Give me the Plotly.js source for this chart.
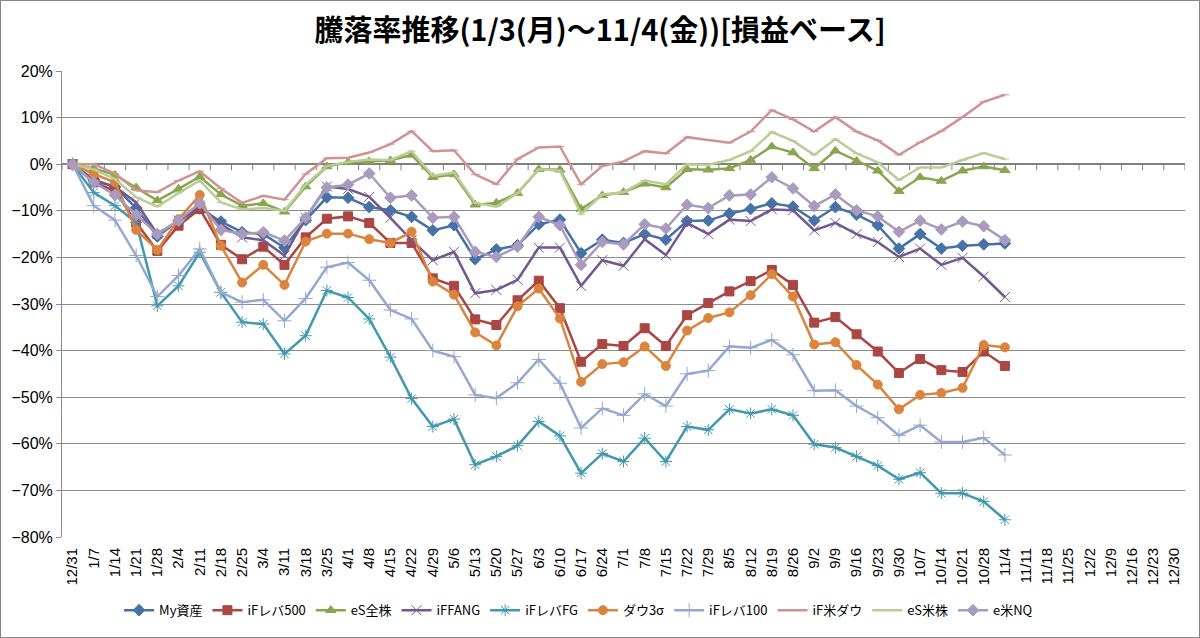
<!DOCTYPE html>
<html>
<head>
<meta charset="utf-8">
<script src="https://cdn.plot.ly/plotly-3.0.1.min.js"></script>
<style>
  body { margin: 0; background: #fff; }
  #chart { width: 1200px; height: 638px; box-sizing: border-box; border: 1px solid #868686; }
</style>
</head>
<body>
<div id="chart"></div>
<script>
// weekly category axis, 12/31 .. 12/30
var dates = ["12/31","1/7","1/14","1/21","1/28","2/4","2/11","2/18","2/25","3/4","3/11","3/18","3/25",
  "4/1","4/8","4/15","4/22","4/29","5/6","5/13","5/20","5/27","6/3","6/10","6/17","6/24",
  "7/1","7/8","7/15","7/22","7/29","8/5","8/12","8/19","8/26","9/2","9/9","9/16","9/23","9/30",
  "10/7","10/14","10/21","10/28","11/4","11/11","11/18","11/25","12/2","12/9","12/16","12/23","12/30"];
var dataDates = dates.slice(0, 45); // data through 11/4

// percent change per week
var myAsset = [0,-3.3,-4.9,-9.4,-15.5,-12.1,-9.5,-12.3,-14.6,-15.0,-17.9,-12.0,-7.1,-7.2,-9.2,-9.9,-11.3,-14.2,-13.1,-20.4,-18.3,-17.4,-12.9,-11.9,-19.1,-16.2,-16.9,-15.0,-16.2,-12.2,-12.1,-10.6,-9.6,-8.4,-9.1,-12.1,-9.2,-10.8,-13.1,-18.1,-15.0,-18.1,-17.5,-17.2,-17.0];
var ifLev500 = [0,-3.9,-5.7,-12.5,-18.6,-13.2,-9.6,-17.3,-20.4,-17.7,-21.6,-15.7,-11.7,-11.2,-12.6,-16.9,-16.9,-24.5,-26.1,-33.3,-34.5,-29.2,-25.0,-30.9,-42.4,-38.6,-39.0,-35.2,-39.0,-32.4,-29.8,-27.3,-25.1,-22.7,-25.9,-34.0,-32.8,-36.5,-40.2,-44.8,-41.8,-44.2,-44.6,-40.2,-43.3];
var esAll = [0,-0.9,-2.3,-5.0,-7.8,-5.3,-2.7,-6.5,-8.9,-8.4,-10.2,-4.8,-0.5,0.4,0.6,0.8,2.0,-2.8,-2.2,-8.7,-8.3,-6.2,-1.1,-1.2,-9.6,-6.7,-6.0,-4.2,-5.0,-1.1,-1.2,-0.9,0.9,3.8,2.5,-0.9,2.9,0.7,-1.4,-5.8,-2.8,-3.6,-1.4,-0.5,-1.3];
var ifFang = [0,-3.5,-4.8,-8.2,-15.0,-12.1,-8.9,-12.9,-15.7,-16.3,-19.6,-11.5,-4.8,-5.3,-7.0,-11.5,-16.3,-20.6,-18.8,-27.7,-27.0,-24.8,-17.9,-17.9,-26.1,-20.6,-21.8,-16.1,-19.5,-12.6,-15.0,-11.9,-12.2,-9.7,-9.9,-14.2,-12.6,-15.0,-16.7,-19.9,-18.1,-21.6,-20.1,-24.1,-28.5];
var ifLevFg = [0,-6.1,-8.9,-12.5,-30.4,-26.1,-18.9,-27.5,-33.9,-34.3,-40.7,-36.8,-27.1,-28.6,-33.2,-41.4,-50.3,-56.3,-54.7,-64.5,-62.7,-60.4,-55.2,-58.3,-66.3,-62.1,-63.8,-58.8,-63.8,-56.3,-57.0,-52.6,-53.5,-52.6,-53.9,-60.1,-60.8,-62.7,-64.7,-67.6,-66.2,-70.6,-70.6,-72.4,-76.3];
var dow3s = [0,-2.1,-3.9,-14.1,-18.4,-11.8,-6.6,-17.5,-25.4,-21.6,-25.9,-16.6,-14.9,-14.9,-16.1,-16.9,-14.5,-25.2,-28.0,-36.1,-38.9,-30.5,-26.7,-33.1,-46.7,-42.9,-42.5,-39.1,-43.3,-35.7,-33.0,-31.8,-28.1,-23.6,-28.4,-38.7,-38.2,-43.1,-47.3,-52.6,-49.5,-49.1,-48.0,-38.8,-39.3];
var ifLev100 = [0,-8.9,-12.0,-19.6,-28.4,-23.9,-18.2,-27.5,-29.6,-29.1,-33.6,-28.8,-22.1,-21.1,-24.9,-31.3,-33.2,-40.0,-41.3,-49.5,-50.2,-46.9,-41.9,-47.0,-56.6,-52.4,-53.9,-49.3,-51.9,-45.0,-44.3,-39.1,-39.4,-37.7,-40.9,-48.6,-48.5,-51.9,-54.4,-58.2,-56.0,-59.6,-59.6,-58.7,-62.4];
var ifUsDow = [0,0,-2.0,-5.6,-6.0,-3.5,-1.5,-5.2,-8.3,-6.8,-7.6,-2.1,1.3,1.4,2.5,4.3,7.1,2.8,3.0,-2.2,-4.3,1.1,3.6,3.8,-4.3,-0.4,0.6,2.8,2.3,5.8,5.2,4.6,7.0,11.6,9.6,7.0,10.1,7.0,5.1,2.0,4.7,7.1,10.1,13.4,14.9];
var esUs = [0,-1.1,-3.2,-7.1,-9.1,-6.2,-3.5,-8.2,-9.7,-9.4,-10.0,-4.4,-0.4,0.5,1.0,0.9,2.8,-2.5,-1.8,-8.3,-9.1,-6.2,-1.1,-1.4,-10.7,-6.5,-6.0,-3.5,-4.3,0.0,-0.1,0.9,2.8,6.9,5.0,2.0,5.4,2.3,0.4,-3.4,-0.7,-0.7,0.9,2.4,1.1];
var eUsNq = [0,-3.9,-6.6,-10.9,-15.0,-12.1,-8.4,-14.1,-15.0,-14.6,-16.4,-11.5,-5.0,-4.4,-2.0,-7.2,-6.7,-11.5,-11.3,-18.8,-19.9,-17.7,-11.3,-13.1,-21.6,-16.7,-17.2,-12.9,-13.8,-8.7,-9.4,-6.7,-6.5,-2.8,-5.2,-9.0,-6.5,-9.9,-11.2,-14.5,-12.1,-14.0,-12.3,-13.3,-16.3];

var names = ["My資産","iFレバ500","eS全株","iFFANG","iFレバFG","ダウ3σ","iFレバ100","iF米ダウ","eS米株","e米NQ"];
var series = [myAsset, ifLev500, esAll, ifFang, ifLevFg, dow3s, ifLev100, ifUsDow, esUs, eUsNq];
var colors = ["#4572A7","#AA4643","#89A54E","#71588F","#4198AF","#DB843D","#93A9CF","#D19392","#B9CD96","#A99BBD"];
var symbols = ["diamond","square","triangle-up","x-thin-open","asterisk-open","circle","cross-thin-open","line-ew-open","line-ew-open","diamond"];
var sizes = [9, 9, 9, 10, 10, 9, 10, 6, 6, 9];

var traces = series.map(function (vals, i) {
  return {
    type: "scatter",
    mode: "lines+markers",
    name: names[i],
    x: dataDates,
    y: vals,
    line: {color: colors[i], width: 2.5},
    marker: {symbol: symbols[i], size: sizes[i], color: colors[i],
             line: {color: colors[i], width: 1}}
  };
});

// Excel-style category axis crossing at 0%: tick marks between the weeks
var axisColor = "#808080";
var zeroTicks = [];
for (var k = 0; k <= dates.length; k++) {
  zeroTicks.push({type: "line", xref: "x", yref: "y", layer: "below",
                  x0: k - 0.5, x1: k - 0.5, y0: 0, y1: -1.3,
                  line: {color: axisColor, width: 1}});
}

var gridColor = "#8c8c8c";
var layout = {
  width: 1198, height: 636,
  margin: {l: 61, r: 14, t: 70, b: 100},
  plot_bgcolor: "#fff", paper_bgcolor: "#fff",
  font: {family: "'Noto Sans CJK JP', 'Liberation Sans', sans-serif", color: "#000"},
  title: {text: "騰落率推移(1/3(月)～11/4(金))[損益ベース]",
          font: {size: 29, weight: "bold", family: "'Noto Sans CJK JP', sans-serif"},
          x: 0.5, xanchor: "center", y: 0.953, yanchor: "middle", yref: "container"},
  showlegend: true,
  legend: {orientation: "h", x: 0.46, xanchor: "center", y: -0.125, yanchor: "top",
           font: {size: 13}, itemwidth: 30, traceorder: "normal"},
  shapes: zeroTicks,
  xaxis: {
    type: "category", categoryorder: "array", categoryarray: dates,
    range: [-0.5, dates.length - 0.5],
    showgrid: false, zeroline: false, showline: false, ticks: "",
    tickangle: -90, ticklabelstandoff: 7,
    tickfont: {size: 15, family: "'Liberation Sans', sans-serif"}
  },
  yaxis: {
    range: [-80, 20], dtick: 10, ticksuffix: "%",
    showgrid: true, gridcolor: gridColor, gridwidth: 1,
    zeroline: true, zerolinecolor: axisColor, zerolinewidth: 1.5,
    showline: true, linecolor: gridColor,
    ticks: "outside", ticklen: 5, tickcolor: gridColor,
    tickfont: {size: 16, family: "'Liberation Sans', sans-serif"}
  }
};

Plotly.newPlot("chart", traces, layout, {displayModeBar: false});
</script>
</body>
</html>
